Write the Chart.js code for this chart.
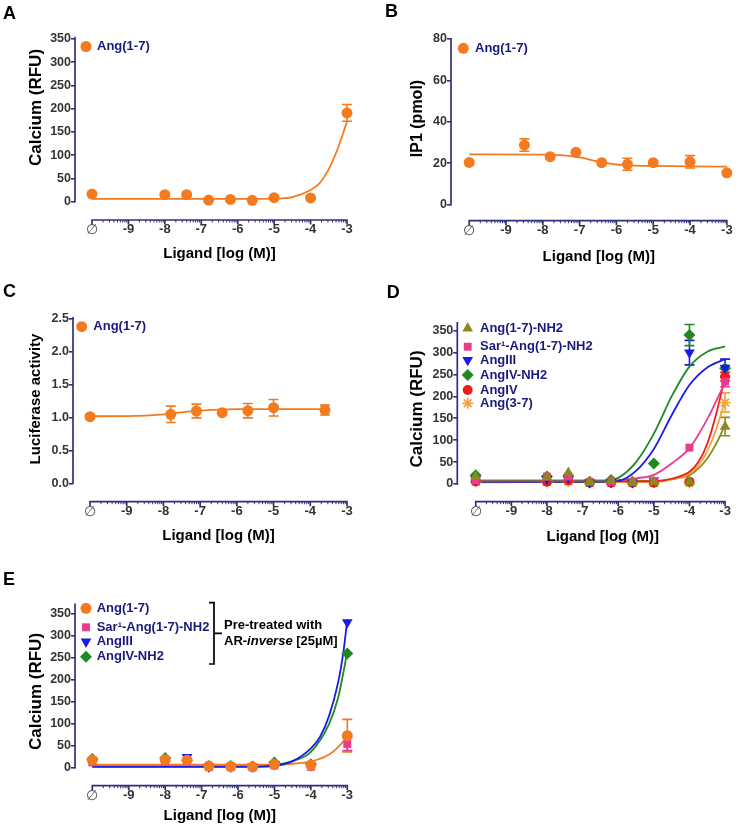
<!DOCTYPE html>
<html>
<head>
<meta charset="utf-8">
<title>Ang(1-7) ligand responses</title>
<script src="https://cdn.jsdelivr.net/npm/chart.js@4.4.1/dist/chart.umd.min.js"></script>
<style>
  html, body { margin: 0; padding: 0; background: #fff; }
  #page { position: relative; width: 738px; height: 828px; overflow: hidden; }
  .panel { position: absolute; }
</style>
</head>
<body>
<div id="page">
  <div class="panel" style="left:0px;top:0px;width:369px;height:275px"><canvas id="chartA"></canvas></div>
  <div class="panel" style="left:369px;top:0px;width:369px;height:275px"><canvas id="chartB"></canvas></div>
  <div class="panel" style="left:0px;top:272px;width:369px;height:273px"><canvas id="chartC"></canvas></div>
  <div class="panel" style="left:369px;top:272px;width:369px;height:273px"><canvas id="chartD"></canvas></div>
  <div class="panel" style="left:0px;top:545px;width:369px;height:283px"><canvas id="chartE"></canvas></div>
</div>
<script>
// ---- data (log M; -10 is the vehicle position, labelled with an empty-set sign) ----
const xTickValues = [-10, -9, -8, -7, -6, -5, -4, -3];
const calciumTicks = [0, 50, 100, 150, 200, 250, 300, 350];
const ip1Ticks = [0, 20, 40, 60, 80];
const lucTicks = [0, 0.5, 1.0, 1.5, 2.0, 2.5];

const doses = [-10, -8, -7.4, -6.8, -6.2, -5.6, -5, -4, -3];
const dosesB = [-10, -8.5, -7.8, -7.1, -6.4, -5.7, -5, -4, -3];
const dosesC = [-10, -7.8, -7.1, -6.4, -5.7, -5, -3.6];

// A: calcium, Ang(1-7)
const calciumA = [16.5, 15, 15, 3.6, 5, 3, 8.6, 8, 191];
const calciumA_err = [0, 0, 0, 0, 0, 0, 0, 0, 18];
const fitA_x = [-10, -6, -5, -4.5, -4, -3.75, -3.5, -3.25, -3];
const fitA_y = [6, 6, 6.5, 10, 25, 40, 70, 115, 172];

// B: IP1, Ang(1-7)
const ip1B = [20.4, 28.8, 23.2, 25.3, 20.3, 19.5, 20.3, 20.7, 15.4];
const ip1B_err = [0, 3, 0, 0, 0, 2.9, 0, 3, 0];
const fitB_x = [-10, -8, -7.5, -7, -6.5, -6, -5.5, -5, -4, -3];
const fitB_y = [24.3, 24.2, 23.9, 22.9, 20.9, 19.4, 18.9, 18.7, 18.5, 18.4];

// C: luciferase, Ang(1-7)
const lucC = [1.014, 1.05, 1.10, 1.075, 1.105, 1.15, 1.115];
const lucC_err = [0, 0.125, 0.105, 0, 0.11, 0.125, 0.075];
const fitC_x = [-10, -9, -8.5, -8, -7.5, -7, -6.5, -6, -5, -3.6];
const fitC_y = [1.02, 1.022, 1.03, 1.05, 1.08, 1.105, 1.12, 1.128, 1.13, 1.13];

// D: calcium, analogues
const angNH2_D = [17, 15, 26, 5, 7, 5, 5, 5, 131];
const angNH2_D_err = [0, 0, 0, 0, 0, 0, 0, 0, 21];
const sar_D = [8, 17, 17, 5, 5, 4, 6, 83, 234];
const sar_D_err = [0, 0, 0, 0, 0, 0, 0, 0, 12];
const angIII_D = [10, 12, 15, 4, 5, 4, 8, 300, 265];
const angIII_D_err = [0, 0, 0, 0, 0, 0, 0, 28, 20];
const angIVNH2_D = [20, 17, 17, 5, 9, 5, 47, 340, 264];
const angIVNH2_D_err = [0, 0, 0, 0, 0, 0, 0, 24, 0];
const angIV_D = [6, 5, 8, 3, 3, 3, 3, 5, 245];
const angIV_D_err = [0, 0, 0, 0, 0, 0, 0, 0, 10];
const ang37_D = [5, 5, 6, 3, 3, 3, 3, 3, 186];
const ang37_D_err = [0, 0, 0, 0, 0, 0, 0, 0, 22];

const fitD_x = [-10, -6.5, -6, -5.5, -5, -4.5, -4, -3.5, -3];
const fitGreenD = [6, 6, 14, 50, 115, 200, 268, 302, 314];
const fitBlueD = [5, 5, 7, 30, 80, 157, 226, 266, 285];
const fitPinkD = [8, 8, 9, 13, 21, 47, 82, 148, 232];
const fitD2_x = [-10, -5, -4.5, -4, -3.75, -3.5, -3.25, -3];
const fitRedD = [5, 6, 12, 28, 50, 92, 160, 245];
const fitOrangeD = [4, 5, 10, 24, 42, 75, 125, 190];
const fitOliveD = [6, 7, 11, 20, 35, 58, 92, 135];

// E: calcium after AR-inverse pre-treatment
const ang17_E = [17.5, 18, 17, 4, 3, 2, 7.7, 6, 73];
const ang17_E_err = [0, 0, 0, 0, 0, 0, 0, 0, 37];
const sar_E = [12, 14, 15, 1, 1, 1, 5, 2, 54];
const sar_E_err = [0, 0, 0, 0, 0, 0, 0, 0, 15];
const angIII_E = [15, 17, 24, 2, 2, 2, 8, 5, 331];
const angIVNH2_E = [20, 22, 17, 4, 4, 3, 12, 8, 260];
const zeros9 = [0, 0, 0, 0, 0, 0, 0, 0, 0];

const fitBlueE_x = [-10, -5.5, -5, -4.5, -4, -3.75, -3.5, -3.25, -3.1, -3];
const fitBlueE = [2, 2, 4, 15, 44, 70, 118, 195, 268, 338];
const fitGreenE_x = [-10, -5.5, -5, -4.5, -4, -3.5, -3.25, -3.1, -3];
const fitGreenE = [3, 3, 6, 15, 36, 100, 160, 220, 265];
const fitOrangeE_x = [-10, -5, -4.5, -4, -3.5, -3.25, -3];
const fitOrangeE = [7, 7, 9, 14, 30, 47, 70];

// ---- styling ----
const FONT = '"Liberation Sans", Arial, Helvetica, sans-serif';
const AXIS_COLOR = '#2f2f7d';
const LEGEND_COLOR = '#1a1a7e';
const TICK_COLOR = '#333333';
const C_ORANGE = '#f47a20';
const C_OLIVE = '#8c8a1c';
const C_PINK = '#ec3a8d';
const C_BLUE = '#1b1be6';
const C_GREEN = '#1f8a22';
const C_RED = '#ee1c1c';
const C_LIGHTORANGE = '#f7a23c';

function pts(xs, ys) { return xs.map((x, i) => ({ x: x, y: ys[i] })); }

function pointSet(label, xs, ys, errs, st) {
  return {
    label: label, data: pts(xs, ys), errors: errs, isMarker: true,
    showLine: false,
    pointStyle: st.shape, pointRadius: st.r, pointHoverRadius: st.r, pointRotation: st.rot || 0,
    backgroundColor: st.color, borderColor: st.color,
    pointBorderWidth: st.shape === 'star' ? 1.8 : 0,
    clip: false
  };
}

function curveSet(xs, ys, color) {
  return {
    data: pts(xs, ys), showLine: true, borderColor: color, borderWidth: 1.8,
    pointRadius: 0, pointHoverRadius: 0, cubicInterpolationMode: 'monotone', fill: false, clip: false
  };
}

function drawErrorBars(chart) {
  const ctx = chart.ctx, xs = chart.scales.x, ys = chart.scales.y;
  chart.data.datasets.forEach(ds => {
    if (!ds.errors) return;
    ctx.save();
    ctx.strokeStyle = ds.borderColor;
    ctx.lineWidth = 1.6;
    ds.data.forEach((p, i) => {
      const e = ds.errors[i];
      if (!e) return;
      const px = xs.getPixelForValue(p.x);
      const top = ys.getPixelForValue(p.y + e), bot = ys.getPixelForValue(p.y - e);
      ctx.beginPath();
      ctx.moveTo(px, top); ctx.lineTo(px, bot);
      ctx.moveTo(px - 5, top); ctx.lineTo(px + 5, top);
      ctx.moveTo(px - 5, bot); ctx.lineTo(px + 5, bot);
      ctx.stroke();
    });
    ctx.restore();
  });
}

function makePanel(canvasId, cfg) {
  const bx = cfg.box.x, by = cfg.box.y;
  const L = { left: cfg.area.left - bx, right: cfg.area.right - bx, top: cfg.area.top - by, bottom: cfg.area.bottom - by };
  // axis limits so that the anchor values land where they sit in the figure
  const xa = cfg.xMap.map(m => [m[0], m[1] - bx]);
  const ya = cfg.yMap.map(m => [m[0], m[1] - by]);
  const xppu = (xa[1][1] - xa[0][1]) / (xa[1][0] - xa[0][0]);
  const xmin = xa[0][0] - (xa[0][1] - L.left) / xppu;
  const xmax = xa[0][0] + (L.right - xa[0][1]) / xppu;
  const yppu = (ya[0][1] - ya[1][1]) / (ya[1][0] - ya[0][0]);
  const ymin = ya[0][0] - (L.bottom - ya[0][1]) / yppu;
  const ymax = ya[0][0] + (ya[0][1] - L.top) / yppu;

  const decor = {
    id: 'decor' + canvasId,
    beforeDatasetsDraw(chart) { drawErrorBars(chart); },
    afterDraw(chart) {
      const ctx = chart.ctx, xs = chart.scales.x, ys = chart.scales.y, a = chart.chartArea;
      ctx.save();
      // y axis line
      ctx.strokeStyle = AXIS_COLOR;
      ctx.lineWidth = 1.7;
      ctx.beginPath();
      ctx.moveTo(a.left, ys.getPixelForValue(0) + 0.8);
      ctx.lineTo(a.left, ys.getPixelForValue(cfg.yLineTop));
      ctx.stroke();
      // x axis line with log minor ticks
      const xb = a.bottom;
      ctx.beginPath();
      ctx.moveTo(xs.getPixelForValue(-10) - 0.8, xb);
      ctx.lineTo(xs.getPixelForValue(-3) + 0.8, xb);
      xTickValues.forEach(v => {
        const px = xs.getPixelForValue(v);
        ctx.moveTo(px, xb); ctx.lineTo(px, xb + 4.5);
      });
      ctx.stroke();
      ctx.lineWidth = 1;
      ctx.beginPath();
      for (let d = -10; d < -3; d++) {
        for (let k = 2; k <= 9; k++) {
          const px = xs.getPixelForValue(d + Math.log10(k));
          ctx.moveTo(px, xb); ctx.lineTo(px, xb + 2.5);
        }
      }
      ctx.stroke();

      // panel letter
      ctx.fillStyle = '#000';
      ctx.font = 'bold 18px ' + FONT;
      ctx.textAlign = 'left';
      ctx.textBaseline = 'alphabetic';
      ctx.fillText(cfg.letter.text, cfg.letter.x - bx, cfg.letter.y - by);

      // axis titles
      ctx.textAlign = 'center';
      ctx.textBaseline = 'middle';
      ctx.font = 'bold 15px ' + FONT;
      ctx.fillText(cfg.xTitle.text, cfg.xTitle.x - bx, cfg.xTitle.y - by);
      ctx.save();
      ctx.translate(cfg.yTitle.x - bx, cfg.yTitle.y - by);
      ctx.rotate(-Math.PI / 2);
      ctx.font = 'bold ' + cfg.yTitle.size + 'px ' + FONT;
      ctx.fillText(cfg.yTitle.text, 0, 0);
      ctx.restore();

      // legend
      const markers = chart.data.datasets.filter(ds => ds.isMarker);
      ctx.textAlign = 'left';
      ctx.font = 'bold 13px ' + FONT;
      markers.forEach((ds, i) => {
        const y = cfg.legend.rows[i] - by;
        ctx.save();
        ctx.fillStyle = ds.backgroundColor;
        ctx.strokeStyle = ds.borderColor;
        ctx.lineWidth = ds.pointBorderWidth || 0;
        Chart.helpers.drawPoint(ctx, {
          pointStyle: ds.pointStyle, rotation: ds.pointRotation, radius: ds.pointRadius,
          borderWidth: ds.pointBorderWidth || 0
        }, cfg.legend.mx - bx, y);
        ctx.restore();
        ctx.fillStyle = LEGEND_COLOR;
        ctx.fillText(ds.label, cfg.legend.tx - bx, y);
      });

      // bracket note
      if (cfg.bracket) {
        const b = cfg.bracket;
        const x = b.x - bx;
        ctx.strokeStyle = '#000';
        ctx.lineWidth = 1.7;
        ctx.beginPath();
        ctx.moveTo(x - 5, b.top - by); ctx.lineTo(x, b.top - by);
        ctx.lineTo(x, b.bottom - by); ctx.lineTo(x - 5, b.bottom - by);
        ctx.moveTo(x, b.mid - by); ctx.lineTo(x + 8, b.mid - by);
        ctx.stroke();
        ctx.fillStyle = '#000';
        ctx.font = 'bold 13px ' + FONT;
        ctx.fillText('Pre-treated with', b.tx - bx, b.ty1 - by);
        let tx = b.tx - bx;
        const segs = [['AR-', 'bold'], ['inverse', 'italic bold'], [' [25\u00b5M]', 'bold']];
        segs.forEach(s => {
          ctx.font = s[1] + ' 13px ' + FONT;
          ctx.fillText(s[0], tx, b.ty2 - by);
          tx += ctx.measureText(s[0]).width;
        });
      }
      ctx.restore();
    }
  };

  return new Chart(document.getElementById(canvasId), {
    type: 'scatter',
    data: { datasets: cfg.datasets },
    plugins: [decor],
    options: {
      responsive: true,
      maintainAspectRatio: false,
      animation: false,
      events: [],
      layout: { padding: { left: 0, top: L.top, right: cfg.box.w - L.right, bottom: 0 } },
      plugins: { legend: { display: false }, tooltip: { enabled: false }, title: { display: false } },
      scales: {
        x: {
          type: 'linear', position: 'bottom', min: xmin, max: xmax,
          afterFit: s => { s.height = cfg.box.h - L.bottom; },
          afterBuildTicks: s => { s.ticks = xTickValues.map(v => ({ value: v })); },
          grid: { display: false, drawTicks: false },
          border: { display: false },
          ticks: {
            autoSkip: false, maxRotation: 0, padding: 2,
            color: c => (c.tick && c.tick.value === -10) ? '#555' : TICK_COLOR,
            font: c => (c.tick && c.tick.value === -10)
              ? { family: FONT, size: 14, weight: 'normal' }
              : { family: FONT, size: 13, weight: 'bold' },
            callback: v => v === -10 ? '\u2205' : String(v)
          }
        },
        y: {
          type: 'linear', position: 'left', min: ymin, max: ymax,
          afterFit: s => { s.width = L.left; },
          afterBuildTicks: s => { s.ticks = cfg.yTicks.map(v => ({ value: v })); },
          grid: { display: true, drawOnChartArea: false, drawTicks: true, tickLength: 4, color: AXIS_COLOR, lineWidth: 1.6 },
          border: { display: false },
          ticks: {
            padding: 0, color: TICK_COLOR,
            font: { family: FONT, size: 12.5, weight: 'bold' },
            callback: v => cfg.yDecimals ? Number(v).toFixed(cfg.yDecimals) : String(v)
          }
        }
      }
    }
  });
}

const S_ORANGE = { shape: 'circle', r: 5.5, color: C_ORANGE };
const S_PINK = { shape: 'rect', r: 5.6, color: C_PINK };
const S_BLUE = { shape: 'triangle', r: 6.2, rot: 180, color: C_BLUE };
const S_GREEN = { shape: 'rectRot', r: 6, color: C_GREEN };

makePanel('chartA', {
  box: { x: 0, y: 0, w: 369, h: 275 },
  area: { left: 75, top: 28, right: 352, bottom: 220 },
  xMap: [[-10, 92], [-3, 347]], yMap: [[0, 201.7], [350, 39]],
  yTicks: calciumTicks, yLineTop: 355,
  letter: { text: 'A', x: 3, y: 18.5 },
  yTitle: { text: 'Calcium (RFU)', x: 36, y: 107.5, size: 17 },
  xTitle: { text: 'Ligand [log (M)]', x: 219.5, y: 254 },
  legend: { mx: 86, tx: 97, rows: [46.5] },
  datasets: [
    pointSet('Ang(1-7)', doses, calciumA, calciumA_err, S_ORANGE),
    curveSet(fitA_x, fitA_y, C_ORANGE)
  ]
});

makePanel('chartB', {
  box: { x: 369, y: 0, w: 369, h: 275 },
  area: { left: 451, top: 28, right: 734, bottom: 220.7 },
  xMap: [[-10, 469.3], [-3, 728.3]], yMap: [[0, 204.7], [80, 39]],
  yTicks: ip1Ticks, yLineTop: 80.5,
  letter: { text: 'B', x: 385, y: 16.7 },
  yTitle: { text: 'IP1 (pmol)', x: 418, y: 118.5, size: 16 },
  xTitle: { text: 'Ligand [log (M)]', x: 598.8, y: 256.7 },
  legend: { mx: 463.3, tx: 475, rows: [48.3] },
  datasets: [
    pointSet('Ang(1-7)', dosesB, ip1B, ip1B_err, S_ORANGE),
    curveSet(fitB_x, fitB_y, C_ORANGE)
  ]
});

makePanel('chartC', {
  box: { x: 0, y: 272, w: 369, h: 273 },
  area: { left: 73, top: 305, right: 352, bottom: 501.7 },
  xMap: [[-10, 90], [-3, 347]], yMap: [[0, 483.3], [2.5, 319]],
  yTicks: lucTicks, yDecimals: 1, yLineTop: 2.53,
  letter: { text: 'C', x: 3, y: 296.7 },
  yTitle: { text: 'Luciferase activity', x: 36, y: 399, size: 15 },
  xTitle: { text: 'Ligand [log (M)]', x: 218.5, y: 536 },
  legend: { mx: 81.7, tx: 93.3, rows: [326.7] },
  datasets: [
    pointSet('Ang(1-7)', dosesC, lucC, lucC_err, S_ORANGE),
    curveSet(fitC_x, fitC_y, C_ORANGE)
  ]
});

makePanel('chartD', {
  box: { x: 369, y: 272, w: 369, h: 273 },
  area: { left: 457.3, top: 305, right: 735, bottom: 501.7 },
  xMap: [[-10, 476], [-3, 729.3]], yMap: [[0, 484], [350, 330.7]],
  yTicks: calciumTicks, yLineTop: 370,
  letter: { text: 'D', x: 386.7, y: 298.3 },
  yTitle: { text: 'Calcium (RFU)', x: 417.5, y: 409, size: 17 },
  xTitle: { text: 'Ligand [log (M)]', x: 602.7, y: 536.7 },
  legend: { mx: 467.7, tx: 480, rows: [328.3, 346.7, 360, 375, 390, 403.3] },
  datasets: [
    pointSet('Ang(1-7)-NH2', doses, angNH2_D, angNH2_D_err, { shape: 'triangle', r: 6.2, color: C_OLIVE }),
    pointSet('Sar\u00b9-Ang(1-7)-NH2', doses, sar_D, sar_D_err, S_PINK),
    pointSet('AngIII', doses, angIII_D, angIII_D_err, S_BLUE),
    pointSet('AngIV-NH2', doses, angIVNH2_D, angIVNH2_D_err, S_GREEN),
    pointSet('AngIV', doses, angIV_D, angIV_D_err, { shape: 'circle', r: 5, color: C_RED }),
    pointSet('Ang(3-7)', doses, ang37_D, ang37_D_err, { shape: 'star', r: 5.5, color: C_LIGHTORANGE }),
    curveSet(fitD_x, fitGreenD, C_GREEN),
    curveSet(fitD_x, fitBlueD, C_BLUE),
    curveSet(fitD_x, fitPinkD, C_PINK),
    curveSet(fitD2_x, fitRedD, C_RED),
    curveSet(fitD2_x, fitOrangeD, C_LIGHTORANGE),
    curveSet(fitD2_x, fitOliveD, C_OLIVE)
  ]
});

makePanel('chartE', {
  box: { x: 0, y: 545, w: 369, h: 283 },
  area: { left: 75, top: 590, right: 352, bottom: 785.7 },
  xMap: [[-10, 92.3], [-3, 347.3]], yMap: [[0, 767.7], [350, 614]],
  yTicks: calciumTicks, yLineTop: 374,
  letter: { text: 'E', x: 3, y: 585 },
  yTitle: { text: 'Calcium (RFU)', x: 36, y: 691.5, size: 17 },
  xTitle: { text: 'Ligand [log (M)]', x: 219.8, y: 816 },
  legend: { mx: 86, tx: 96.7, rows: [608.3, 627.3, 641.7, 656.7] },
  bracket: { x: 214, top: 602.7, bottom: 664, mid: 633.3, tx: 224, ty1: 625.7, ty2: 641.7 },
  datasets: [
    pointSet('Ang(1-7)', doses, ang17_E, ang17_E_err, S_ORANGE),
    pointSet('Sar\u00b9-Ang(1-7)-NH2', doses, sar_E, sar_E_err, S_PINK),
    pointSet('AngIII', doses, angIII_E, zeros9, S_BLUE),
    pointSet('AngIV-NH2', doses, angIVNH2_E, zeros9, S_GREEN),
    curveSet(fitBlueE_x, fitBlueE, C_BLUE),
    curveSet(fitGreenE_x, fitGreenE, C_GREEN),
    curveSet(fitOrangeE_x, fitOrangeE, C_ORANGE)
  ]
});
</script>
</body>
</html>
